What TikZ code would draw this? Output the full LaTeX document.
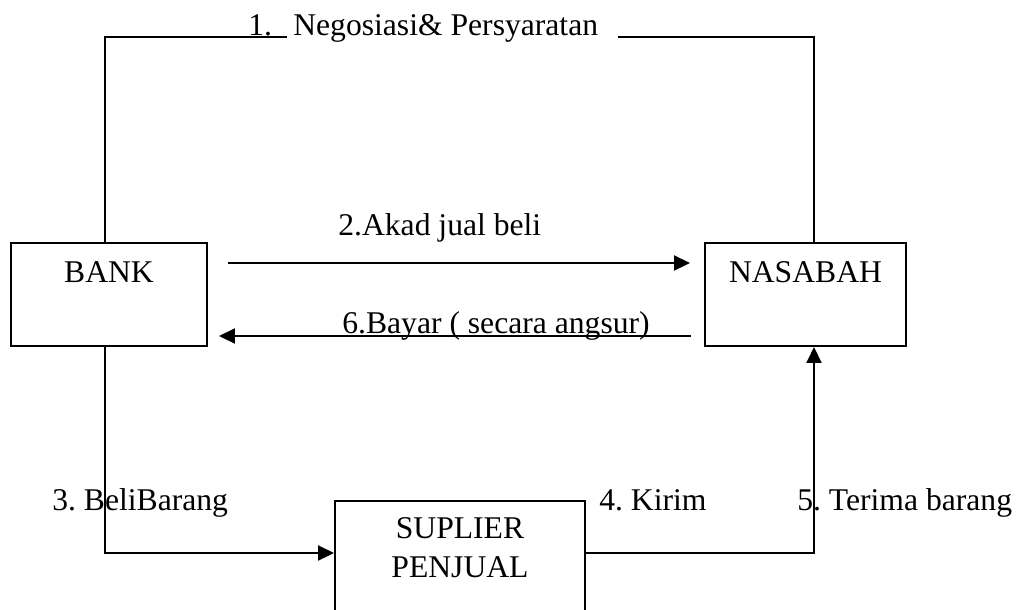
\documentclass[tikz,border=0pt]{standalone}
\usepackage{fontspec}
\setmainfont{Liberation Serif}
\usetikzlibrary{arrows.meta}
\frenchspacing

\begin{document}
\begin{tikzpicture}[x=0.02cm,y=-0.02cm,
                    box/.style={draw,line width=0.04cm,inner sep=0pt},
                    lbl/.style={inner sep=0pt,anchor=base west},
                    arr/.style={-{Triangle[length=0.32cm,width=0.30cm]}}]
                    \useasboundingbox (0.000000,0.000000) rectangle (1023.000000,609.000000);
                    \clip (0.000000,0.000000) rectangle (1023.000000,609.000000);
                    {\fontsize{18}{22}\selectfont

                    % Drawing box BANK
                    \node [box,minimum width=3.92cm,minimum height=2.06cm] (bank) at (109.000000,294.500000) {};%
                    \node [inner sep=0pt,anchor=base] (banktxt) at (109.000000,282.000000) {BANK};%

                    % Drawing box NASABAH
                    \node [box,minimum width=4.02cm,minimum height=2.06cm] (nasabah) at (805.500000,294.500000) {};%
                    \node [inner sep=0pt,anchor=base] (nasabahtxt) at (805.500000,282.000000) {NASABAH};%

                    % Drawing box SUPLIER PENJUAL (cut at the bottom)
                    \node [box,minimum width=5.00cm,minimum height=2.80cm] (suplier) at (460.000000,571.000000) {};%
                    \node [inner sep=0pt,anchor=base] (supliertxt) at (460.000000,538.000000) {SUPLIER};%
                    \node [inner sep=0pt,anchor=base] (penjualtxt) at (460.000000,577.000000) {PENJUAL};%

                    % Corner points of the connectors
                    \coordinate (k1) at (105.000000,37.000000);
                    \coordinate (k2) at (287.000000,37.000000);
                    \coordinate (k3) at (618.000000,37.000000);
                    \coordinate (k4) at (814.000000,37.000000);
                    \coordinate (k5) at (105.000000,553.000000);
                    \coordinate (k6) at (814.000000,553.000000);
                    \coordinate (a2) at (0.000000,263.000000);
                    \coordinate (a6) at (0.000000,336.000000);

                    % Drawing line 1 (Negosiasi)
                    \draw [line width=0.04cm] (bank.north -| k1) -- (k1) -- (k2);%
                    \draw [line width=0.04cm] (k3) -- (k4) -- (nasabah.north -| k4);%
                    \node [lbl] (t1a) at (248.000000,35.000000) {1.};%
                    \node [lbl] (t1b) at (293.000000,35.000000) {Negosiasi\& Persyaratan};%

                    % Drawing arrow 2 (Akad jual beli)
                    \draw [arr,line width=0.04cm,shorten <=0.40cm,shorten >=0.28cm] (bank.east |- a2) -- (nasabah.west |- a2);%
                    \node [lbl] (t2) at (338.000000,235.000000) {2.Akad jual beli};%

                    % Drawing arrow 6 (Bayar)
                    \draw [arr,line width=0.04cm,shorten <=0.26cm,shorten >=0.22cm] (nasabah.west |- a6) -- (bank.east |- a6);%
                    \node [lbl] (t6) at (342.000000,333.000000) {6.Bayar ( secara angsur)};%

                    % Drawing arrow 3 (Beli barang)
                    \draw [arr,line width=0.04cm] (bank.south -| k5) -- (k5) -- (suplier.west |- k5);%
                    \node [lbl] (t3) at (52.000000,510.000000) {3. BeliBarang};%

                    % Drawing arrow 4 and 5 (Kirim, Terima barang)
                    \draw [arr,line width=0.04cm] (suplier.east |- k6) -- (k6) -- (nasabah.south -| k6);%
                    \node [lbl] (t4) at (599.000000,510.000000) {4. Kirim};%
                    \node [lbl] (t5) at (797.000000,510.000000) {5. Terima barang};%
                    }
                \end{tikzpicture}
\end{document}
